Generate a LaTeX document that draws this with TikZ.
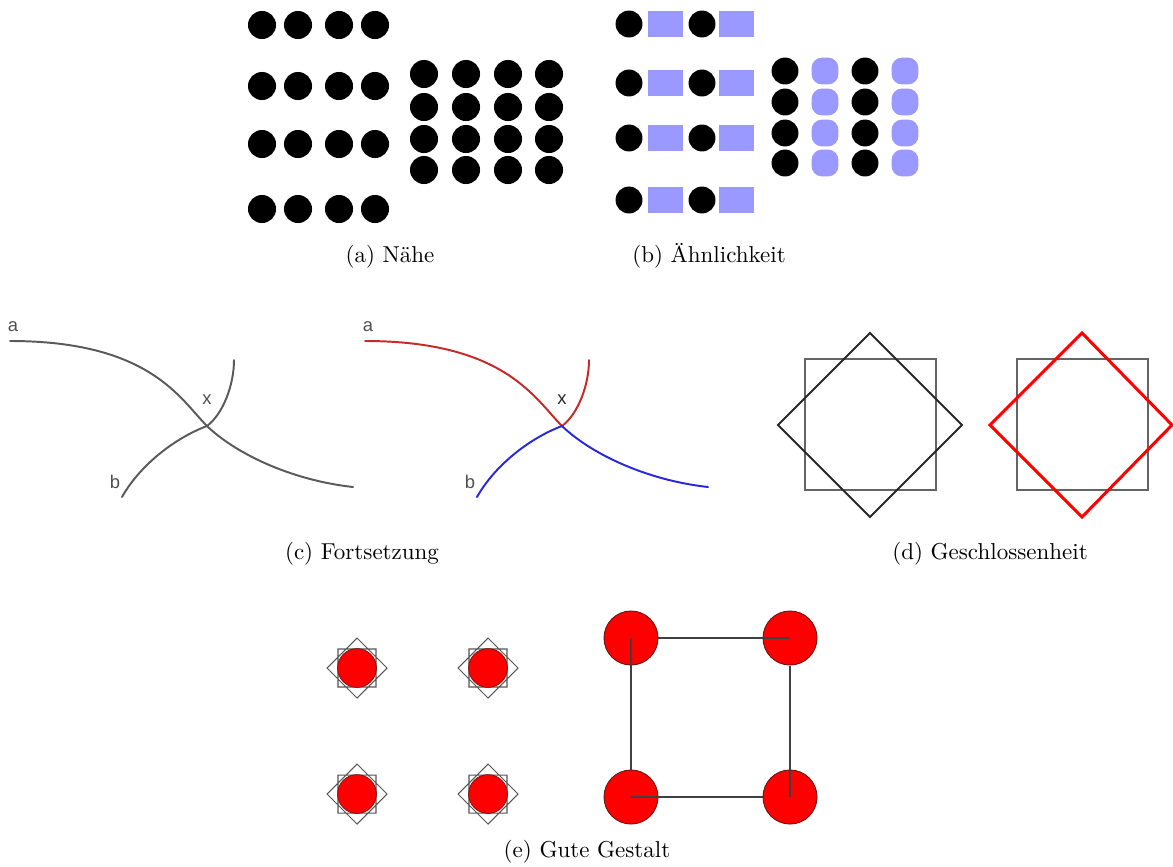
\documentclass[tikz,border=0pt]{standalone}
\usepackage{fontspec}
\newfontfamily\labfont{Liberation Sans}
\definecolor{lblue}{RGB}{153,153,255}
\definecolor{curvegray}{RGB}{90,90,90}
\definecolor{labgray}{RGB}{80,80,80}
\definecolor{cred}{RGB}{200,40,40}
\definecolor{cblue}{RGB}{40,40,220}
\definecolor{sqgray}{RGB}{100,100,100}
\definecolor{dmgray}{RGB}{40,40,40}
\definecolor{darkred}{RGB}{110,20,20}
\definecolor{stargray}{RGB}{85,85,85}
\tikzset{
  dotA/.style={circle, fill=black, inner sep=0pt, minimum size=12.2pt},
  dotB/.style={circle, fill=black, inner sep=0pt, minimum size=11.7pt},
  boxB/.style={rectangle, fill=lblue, inner sep=0pt, minimum width=15.2pt, minimum height=11.7pt},
  rndB/.style={rectangle, rounded corners=4.6pt, fill=lblue, inner sep=0pt, minimum size=11.7pt},
  capt/.style={anchor=base, inner sep=0pt},
  lab/.style={font=\labfont\fontsize{8}{9}\selectfont, text=labgray, inner sep=0pt},
  curveline/.style={line width=0.85pt, line cap=round},
  redS/.style={circle, fill=red, draw=darkred, line width=0.3pt, inner sep=0pt, minimum size=16.9pt},
  redL/.style={circle, fill=red, draw=darkred, line width=0.4pt, inner sep=0pt, minimum size=23.5pt},
  starline/.style={draw=stargray, line width=0.45pt},
  conn/.style={draw=black!75, line width=0.5pt},
}
\begin{document}
\begin{tikzpicture}[x=0.4348pt, y=-0.4348pt]
\useasboundingbox (0,0) rectangle (1173,866);
% ---------------- (a) Naehe
\foreach \x [count=\i] in {262,298,339,375}
  \foreach \y [count=\j] in {25,86,144,209}
    \node[dotA] (aL\i\j) at (\x,\y) {};
\foreach \x [count=\i] in {424,466,508,549}
  \foreach \y [count=\j] in {74,107,139,170}
    \node[dotA] (aR\i\j) at (\x,\y) {};
\node[capt] (capa) at (390,262) {(a) Nähe};
% ---------------- (b) Aehnlichkeit
\foreach \y [count=\j] in {24,83,138,200} {
  \node[dotB] (bc1\j) at (629,\y) {};
  \node[boxB] (bs1\j) at (665.5,\y) {};
  \node[dotB] (bc2\j) at (702,\y) {};
  \node[boxB] (bs2\j) at (736.5,\y) {};
}
\foreach \y [count=\j] in {71,102,133,163} {
  \node[dotB] (br1\j) at (785,\y) {};
  \node[rndB] (br2\j) at (825,\y) {};
  \node[dotB] (br3\j) at (865,\y) {};
  \node[rndB] (br4\j) at (905,\y) {};
}
\node[capt] (capb) at (709,262) {(b) Ähnlichkeit};
% ---------------- (c) Fortsetzung
\draw[curveline, curvegray] (10,341) .. controls (150,341) and (180,399) .. (207,426)
   .. controls (235,453) and (290,480) .. (353,487);
\draw[curveline, curvegray] (122,497) .. controls (140,465) and (175,438) .. (207,426)
   .. controls (223,414) and (234,385) .. (234,360);
\node[lab] (ca1) at (13,327) {a};
\node[lab] (cx1) at (207,400) {x};
\node[lab] (cb1) at (115,482) {b};
\begin{scope}[shift={(355,0)}]
\draw[curveline, cred] (10,341) .. controls (150,341) and (180,399) .. (207,426)
   .. controls (223,414) and (234,385) .. (234,360);
\draw[curveline, cblue] (122,497) .. controls (140,465) and (175,438) .. (207,426)
   .. controls (235,453) and (290,480) .. (353,487);
\node[lab] (ca2) at (13,327) {a};
\node[lab, text=dmgray] (cx2) at (207,400) {x};
\node[lab] (cb2) at (115,482) {b};
\end{scope}
\node[capt] (capc) at (362,559) {(c) Fortsetzung};
% ---------------- (d) Geschlossenheit
\draw[draw=sqgray, line width=0.9pt] (805,359) rectangle (936,490);
\draw[draw=dmgray, line width=0.85pt] (870,333) -- (962,425) -- (870,517) -- (778,425) -- cycle;
\draw[draw=sqgray, line width=0.9pt] (1017,359) rectangle (1148,490);
\draw[draw=red, line width=1.3pt] (1082,333) -- (1172,425) -- (1082,517) -- (990,425) -- cycle;
\node[capt] (capd) at (990,559) {(d) Geschlossenheit};
% ---------------- (e) Gute Gestalt
\foreach \x/\y/\n in {357/668/1, 488/668/2, 357/794/3, 488/794/4} {
  \draw[starline, shift={(\x,\y)}] (0,-30) -- (30,0) -- (0,30) -- (-30,0) -- cycle
       (-19,-19) rectangle (19,19);
  \node[redS] (es\n) at (\x,\y) {};
}
\node[redL] (TL) at (631,638) {};
\node[redL] (TR) at (790,638) {};
\node[redL] (BL) at (631,797) {};
\node[redL] (BR) at (790,797) {};
\draw[conn] (TL.east) -- (TR.center);
\draw[conn] (TR.south) -- (BR.center);
\draw[conn] (BR.west) -- (BL.center);
\draw[conn] (BL.north) -- (TL.center);
\node[capt] (cape) at (587,857) {(e) Gute Gestalt};
\end{tikzpicture}
\end{document}
